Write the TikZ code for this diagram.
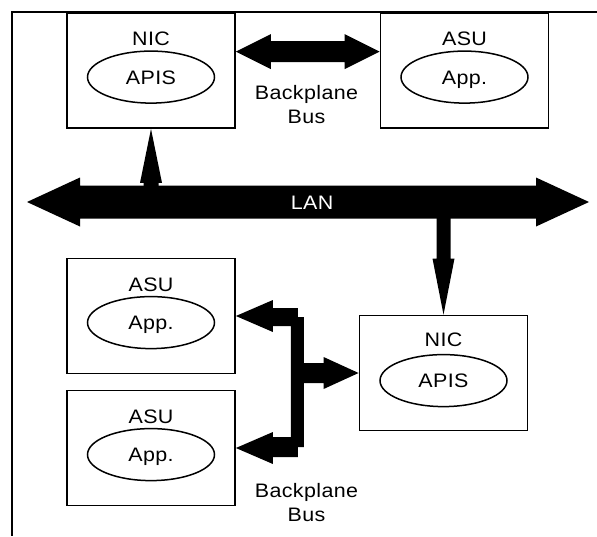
\documentclass[tikz,border=0pt]{standalone}
\usepackage{fontspec}
\setmainfont{Liberation Sans}[FakeStretch=1.1,LetterSpace=2]
\usetikzlibrary{calc,shapes.geometric}
\begin{document}
\begin{tikzpicture}[x=1pt,y=-1pt,
  box/.style={draw,line width=1.8pt,minimum width=168pt,minimum height=115pt,inner sep=0pt},
  lbl/.style={font=\fontsize{19.5}{24}\selectfont,text height=14pt,text depth=0pt,inner sep=0pt},
  ell/.style={lbl,draw,ellipse,line width=1.5pt,minimum width=127pt,minimum height=52pt},
  buslbl/.style={font=\fontsize{19.5}{24.5}\selectfont,align=center,inner sep=0pt},
  fat/.style={fill=black}]
\useasboundingbox (0,0) rectangle (597,536);
\fill[white] (0,0) rectangle (597,536);
% frame
\draw[line width=1.3pt] (597,12) -- (12,12) -- (12,536);
% boxes
\node[box] (nic1) at (151,70.5) {};
\node[box] (asu1) at (464.5,70.5) {};
\node[box] (asu2) at (151,316) {};
\node[box] (asu3) at (151,448) {};
\node[box] (nic2) at (443.5,373) {};
% labels
\node[lbl] (nic1t) at ($(nic1.north)+(0,-26.5pt)$) {NIC};
\node[ell] (apis1) at ($(nic1.north)+(0,-65pt)$) {APIS};
\node[lbl] (asu1t) at ($(asu1.north)+(0,-26.5pt)$) {ASU};
\node[ell] (app1) at ($(asu1.north)+(0,-65pt)$) {App.};
\node[lbl] (asu2t) at ($(asu2.north)+(0,-26.5pt)$) {ASU};
\node[ell] (app2) at ($(asu2.north)+(0,-65pt)$) {App.};
\node[lbl] (asu3t) at ($(asu3.north)+(0,-26.5pt)$) {ASU};
\node[ell] (app3) at ($(asu3.north)+(0,-65pt)$) {App.};
\node[lbl] (nic2t) at ($(nic2.north)+(0,-24.5pt)$) {NIC};
\node[ell] (apis2) at ($(nic2.north)+(0,-66pt)$) {APIS};
% top backplane bus
\fill[fat] let \p1=($(nic1.north east)+(0,-39.5pt)$), \p2=($(asu1.north west)+(0,-39.5pt)$) in
  (\p1) -- (\x1+35pt,\y1+17.5pt) -- (\x1+35pt,\y1+10.5pt) -- (\x2-35pt,\y1+10.5pt)
  -- (\x2-35pt,\y1+17.5pt) -- (\x2,\y1) -- (\x2-35pt,\y1-17.5pt) -- (\x2-35pt,\y1-10.5pt)
  -- (\x1+35pt,\y1-10.5pt) -- (\x1+35pt,\y1-17.5pt) -- cycle;
\node[buslbl] (bp1) at (306.5,104.5) {Backplane\\Bus};
% LAN
\coordinate (lanL) at (27,202);
\coordinate (lanR) at (589,202);
\fill[fat] let \p1=(lanL), \p2=(lanR) in
  (\p1) -- (\x1+53pt,\y1+24.5pt) -- (\x1+53pt,\y1+16.5pt) -- (\x2-53pt,\y1+16.5pt)
  -- (\x2-53pt,\y1+24.5pt) -- (\p2) -- (\x2-53pt,\y1-24.5pt) -- (\x2-53pt,\y1-16.5pt)
  -- (\x1+53pt,\y1-16.5pt) -- (\x1+53pt,\y1-24.5pt) -- cycle;
\node[lbl,text=white] (lan) at (312,202) {LAN};
% LAN to NIC 1
\fill[fat] let \p1=(nic1.south), \p2=(lanL) in
  (\p1) -- (\x1+11pt,\y1-54pt) -- (\x1+7.5pt,\y1-54pt) -- (\x1+7.5pt,\y2)
  -- (\x1-7.5pt,\y2) -- (\x1-7.5pt,\y1-54pt) -- (\x1-11pt,\y1-54pt) -- cycle;
% LAN to NIC 2
\fill[fat] let \p1=(nic2.north), \p2=(lanR) in
  (\p1) -- (\x1+11pt,\y1+56pt) -- (\x1+7pt,\y1+56pt) -- (\x1+7pt,\y2)
  -- (\x1-7pt,\y2) -- (\x1-7pt,\y1+56pt) -- (\x1-11pt,\y1+56pt) -- cycle;
% bottom backplane bus
\fill[fat] let \p1=(asu2.east), \p2=(asu3.east), \p3=(nic2.west) in
  (\p1) -- (\x1+37pt,\y1+16pt) -- (\x1+37pt,\y1+8pt) -- (\x1+62pt,\y1+8pt)
  -- (\x1+62pt,\y1-1pt) -- (\x1+68pt,\y1-1pt) -- (\x1+68pt,\y3+10pt)
  -- (\x3-35pt,\y3+10pt) -- (\x3-35pt,\y3+16pt) -- (\p3) -- (\x3-35pt,\y3-16pt)
  -- (\x3-35pt,\y3-10pt) -- (\x1+68pt,\y3-10pt) -- (\x1+68pt,\y2+1pt)
  -- (\x1+62pt,\y2+1pt) -- (\x1+62pt,\y2-9pt) -- (\x1+37pt,\y2-9pt)
  -- (\x1+37pt,\y2-16pt) -- (\p2) -- (\x1+37pt,\y2+16pt) -- (\x1+37pt,\y2+11pt)
  -- (\x1+55pt,\y2+11pt) -- (\x1+55pt,\y1-10pt) -- (\x1+37pt,\y1-10pt)
  -- (\x1+37pt,\y1-16pt) -- cycle;
\node[buslbl] (bp2) at (306.5,502.5) {Backplane\\Bus};
\end{tikzpicture}
\end{document}
